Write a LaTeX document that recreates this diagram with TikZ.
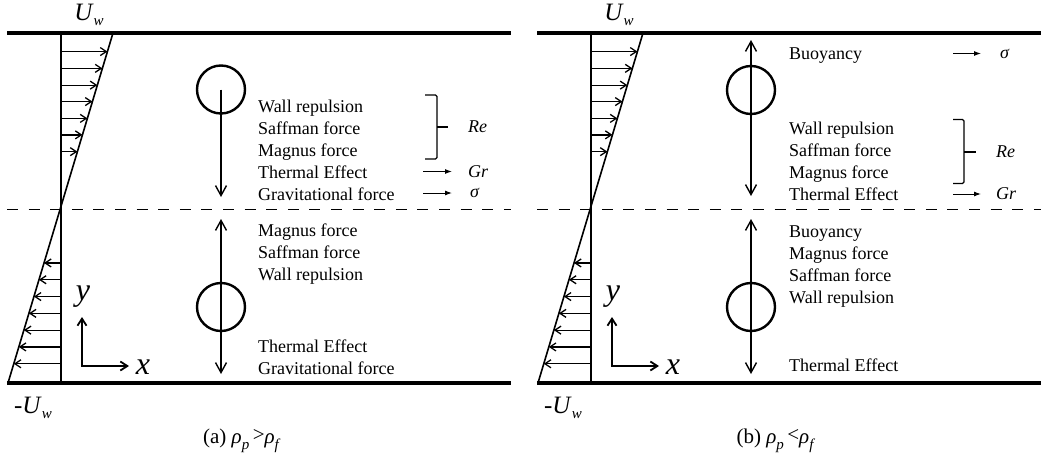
\documentclass[tikz,border=0pt]{standalone}
\usepackage{fontspec}
\setmainfont{Liberation Serif}
\usetikzlibrary{positioning, arrows.meta, calc}
\newcommand{\lsub}[2]{\raisebox{-#1}{\fontsize{15}{15}\selectfont\itshape #2}}

\begin{document}
\begin{tikzpicture}[x=1pt, y=-1pt, node distance=9.1pt,
 wall/.style={line width=4pt},
 prof/.style={line width=1.6pt},
 vel/.style={line width=1.3pt, -{Straight Barb[length=6pt,width=8pt]}},
 axisarr/.style={line width=1.8pt, {Straight Barb[length=7pt,width=9pt]}-{Straight Barb[length=7pt,width=9pt]}},
 force/.style={line width=1.4pt, -{Straight Barb[length=10pt,width=11pt]}},
 duo/.style={line width=1.4pt, {Straight Barb[length=10pt,width=11pt]}-{Straight Barb[length=10pt,width=11pt]}},
 ptc/.style={circle, draw, line width=2.4pt, minimum size=48pt, inner sep=0pt},
 lbl/.style={anchor=west, inner sep=0pt, text height=12.6pt, text depth=0pt, font=\fontsize{18}{22}\selectfont},
 nextline/.style={below right=9.1pt and 0pt of #1},
 sym/.style={anchor=west, inner sep=0pt, font=\fontsize{18}{22}\selectfont\itshape},
 dep/.style={line width=1pt, -{Latex[length=7pt,width=5pt]}},
 brc/.style={line width=1.2pt, rounded corners=1.5pt},
 midline/.style={line width=1pt, dash pattern=on 11pt off 10.6pt},
 capt/.style={font=\fontsize{21}{21}\selectfont}]

\useasboundingbox (0,0) rectangle (1042,463);

% channel, shear profile and axes (same in both panels)
\foreach \p/\dx in {a/0, b/530} {
\begin{scope}[xshift=\dx pt]
\coordinate (\p-vt) at (61,33); \coordinate (\p-vb) at (61,383);
\coordinate (\p-st) at (113,33); \coordinate (\p-sb) at (8,383);
\draw[prof] (\p-vt) -- (\p-vb);
\draw[prof] (\p-st) -- (\p-sb);
\foreach \t in {0.053,0.101,0.149,0.196,0.244,0.291,0.339,0.657,0.705,0.753,0.801,0.849,0.897,0.945}
 \draw[vel] ($(\p-vt)!\t!(\p-vb)$) -- ($(\p-st)!\t!(\p-sb)$);
\coordinate (\p-tl) at (7,33); \coordinate (\p-tr) at (511,33);
\coordinate (\p-bl) at (7,383); \coordinate (\p-br) at (511,383);
\coordinate (\p-ml) at (7,209); \coordinate (\p-mr) at (511,209);
\draw[wall] (\p-tl) -- (\p-tr);
\draw[wall] (\p-bl) -- (\p-br);
\draw[midline] (\p-ml) -- (\p-mr);
\node[font=\fontsize{25}{25}\selectfont] (\p-uw) at (89,15) {\textit{U}\lsub{5pt}{w}};
\node[font=\fontsize{25}{25}\selectfont] (\p-muw) at (33,408) {-\textit{U}\lsub{5pt}{w}};
\coordinate (\p-o) at (82,366); \coordinate (\p-yax) at (82,317); \coordinate (\p-xax) at (129,366);
\draw[axisarr] (\p-yax) -- (\p-o) -- (\p-xax);
\node[font=\fontsize{32}{32}\selectfont\itshape] (\p-ylab) at (83,297) {y};
\node[font=\fontsize{32}{32}\selectfont\itshape] (\p-xlab) at (143,367) {x};
\end{scope}
}

% (a) heavier particle
\node[ptc] (a-p1) at (221,89.5) {};
\coordinate (a-f1) at (221,197);
\draw[force] (a-p1.center) -- (a-f1);
\node[ptc] (a-p2) at (221,307) {};
\coordinate (a-u2) at (221,219); \coordinate (a-d2) at (221,374);
\draw[duo] (a-u2) -- (a-d2);

\node[lbl] (a-wall) at (258,106) {Wall repulsion};
\node[lbl, nextline=a-wall.south west] (a-saff) {Saffman force};
\node[lbl, nextline=a-saff.south west] (a-mag) {Magnus force};
\node[lbl, nextline=a-mag.south west] (a-therm) {Thermal Effect};
\node[lbl, nextline=a-therm.south west] (a-grav) {Gravitational force};

\node[lbl] (a-mag2) at (258,230) {Magnus force};
\node[lbl, nextline=a-mag2.south west] (a-saff2) {Saffman force};
\node[lbl, nextline=a-saff2.south west] (a-wall2) {Wall repulsion};
\node[lbl] (a-therm2) at (258,346) {Thermal Effect};
\node[lbl, nextline=a-therm2.south west] (a-grav2) {Gravitational force};

\coordinate (a-bt) at (437,95); \coordinate (a-bb) at (437,159);
\draw[brc] ([xshift=-12pt]a-bt) -- (a-bt) -- (a-bb) -- ([xshift=-12pt]a-bb);
\draw[line width=1.2pt] ($(a-bt)!.5!(a-bb)$) coordinate (a-bm) -- ++(11,0);
\node[sym, right=31pt of a-bm] (a-re) {Re};
\node[sym] (a-gr) at (468,171.5) {Gr};
\draw[dep] ([xshift=-45pt]a-gr.west) -- ([xshift=-16pt]a-gr.west);
\node[sym] (a-sig) at (470,193) {σ};
\draw[dep] ([xshift=-47pt]a-sig.west) -- ([xshift=-18pt]a-sig.west);

\node[capt] (a-cap) at (241,441)
 {(a) \textit{ρ}\lsub{6pt}{p}\,\raisebox{2pt}{>}\textit{ρ}\lsub{6pt}{f}};

% (b) lighter particle
\node[ptc] (b-p1) at (751,90) {};
\coordinate (b-u1) at (751,40); \coordinate (b-d1) at (751,196);
\draw[duo] (b-u1) -- (b-d1);
\node[ptc] (b-p2) at (751,307) {};
\coordinate (b-u2) at (751,219); \coordinate (b-d2) at (751,374);
\draw[duo] (b-u2) -- (b-d2);

\node[lbl] (b-buoy) at (789,53) {Buoyancy};
\node[lbl] (b-wall) at (789,127.7) {Wall repulsion};
\node[lbl, nextline=b-wall.south west] (b-saff) {Saffman force};
\node[lbl, nextline=b-saff.south west] (b-mag) {Magnus force};
\node[lbl, nextline=b-mag.south west] (b-therm) {Thermal Effect};

\node[lbl] (b-buoy2) at (789,230.7) {Buoyancy};
\node[lbl, nextline=b-buoy2.south west] (b-mag2) {Magnus force};
\node[lbl, nextline=b-mag2.south west] (b-saff2) {Saffman force};
\node[lbl, nextline=b-saff2.south west] (b-wall2) {Wall repulsion};
\node[lbl] (b-therm2) at (789,365) {Thermal Effect};

\coordinate (b-bt) at (964,119.5); \coordinate (b-bb) at (964,183.5);
\draw[brc] ([xshift=-11pt]b-bt) -- (b-bt) -- (b-bb) -- ([xshift=-11pt]b-bb);
\draw[line width=2pt] ($(b-bt)!.5!(b-bb)$) coordinate (b-bm) -- ++(11.5,0);
\node[sym, right=32pt of b-bm] (b-re) {Re};
\node[sym] (b-sig) at (1000,53.5) {σ};
\draw[dep] ([xshift=-47pt]b-sig.west) -- ([xshift=-19pt]b-sig.west);
\node[sym] (b-gr) at (996,194) {Gr};
\draw[dep] ([xshift=-43pt]b-gr.west) -- ([xshift=-15pt]b-gr.west);

\node[capt] (b-cap) at (775,441)
 {(b) \textit{ρ}\lsub{6pt}{p}\,\raisebox{2pt}{<}\textit{ρ}\lsub{6pt}{f}};

\end{tikzpicture}
\end{document}
